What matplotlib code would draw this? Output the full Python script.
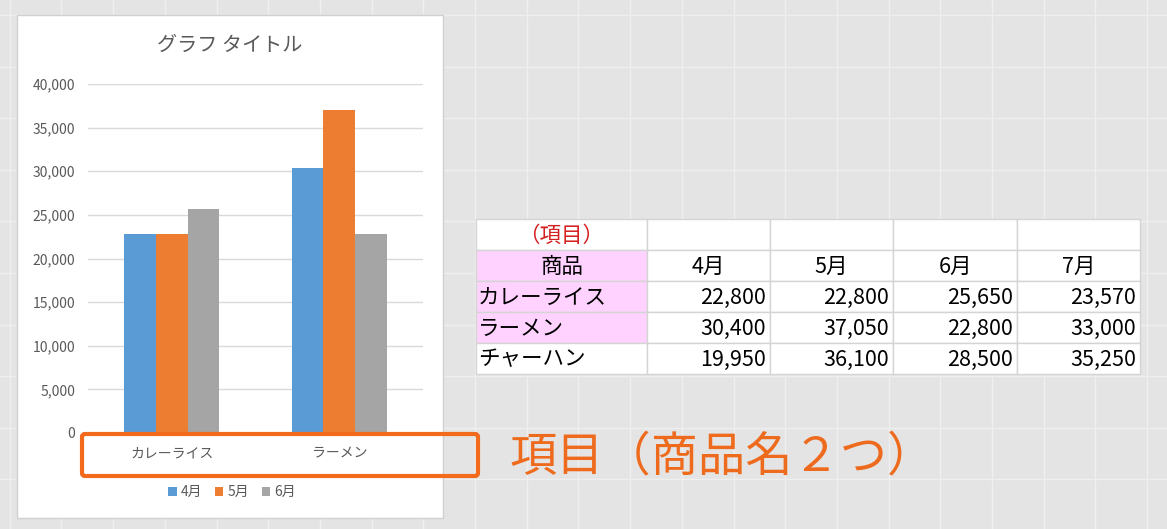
import matplotlib.pyplot as plt
import matplotlib.patches as mpatches
import numpy as np

plt.rcParams['font.family'] = ['Noto Sans CJK JP', 'DejaVu Sans']

# data
products = ["カレーライス", "ラーメン", "チャーハン"]
months = ["4月", "5月", "6月", "7月"]
apr = [22800, 30400, 19950]
may = [22800, 37050, 36100]
jun = [25650, 22800, 28500]
jul = [23570, 33000, 35250]
chart_title = "グラフ タイトル"
note_text = "項目（商品名２つ）"
head_label = "（項目）"
head_col = "商品"

W, H = 1167, 529
fig = plt.figure(figsize=(W / 100, H / 100), dpi=100)
fig.patch.set_facecolor("#e4e4e4")

# overlay axes in pixel coords
bg = fig.add_axes([0, 0, 1, 1])
bg.set_xlim(0, W)
bg.set_ylim(H, 0)
bg.axis("off")
bg.set_zorder(0)

# spreadsheet grid behind everything
for y in np.arange(15, H, 51.6):
    bg.plot([0, W], [y, y], color="#efefef", lw=1, zorder=1)
for x in np.arange(475 - 51.7 * 9, W, 51.7):
    bg.plot([x, x], [0, H], color="#efefef", lw=1, zorder=1)

# chart panel
bg.add_patch(mpatches.Rectangle((17, 15), 426, 503, facecolor="white",
                                edgecolor="#d0d0d0", lw=1, zorder=2))
bg.text(230, 45, chart_title, ha="center", va="center", fontsize=14.5,
        color="#595959", zorder=3)

# table
col_x = [476, 647, 770, 893, 1017, 1140]
row_y = [219, 250, 281, 312, 343, 374]
for r in range(5):
    for c in range(5):
        fc = "#ffd2ff" if (c == 0 and 1 <= r <= 3) else "white"
        bg.add_patch(mpatches.Rectangle((col_x[c], row_y[r]),
                                        col_x[c + 1] - col_x[c],
                                        row_y[r + 1] - row_y[r],
                                        facecolor=fc, edgecolor="#d4d4d4",
                                        lw=1, zorder=2))
def cy(r):
    return (row_y[r] + row_y[r + 1]) / 2 + 1

tfs = 15.5
bg.text((col_x[0] + col_x[1]) / 2, cy(0), head_label, ha="center", va="center",
        fontsize=tfs, color="#d42020", zorder=3)
bg.text((col_x[0] + col_x[1]) / 2, cy(1), head_col, ha="center", va="center",
        fontsize=tfs, color="black", zorder=3)
for j, m in enumerate(months):
    bg.text((col_x[j + 1] + col_x[j + 2]) / 2, cy(1), m, ha="center",
            va="center", fontsize=tfs, color="black", zorder=3)
table_vals = [apr, may, jun, jul]
for i, p in enumerate(products):
    bg.text(col_x[0] + 2, cy(i + 2), p, ha="left", va="center",
            fontsize=tfs, color="black", zorder=3)
    for j in range(4):
        bg.text(col_x[j + 2] - 4, cy(i + 2), f"{table_vals[j][i]:,}",
                ha="right", va="center", fontsize=tfs, color="black", zorder=3)

# bar chart (first two products, three months)
ax = fig.add_axes([88 / W, 1 - 433 / H, (423 - 88) / W, (433 - 84) / H])
ax.set_zorder(2)
ax.patch.set_alpha(0)
n = 2
x = np.arange(n)
bw = 0.19
colors = ["#5b9bd5", "#ed7d31", "#a5a5a5"]
series = [apr[:n], may[:n], jun[:n]]
handles = []
for k, (vals, col) in enumerate(zip(series, colors)):
    b = ax.bar(x + (k - 1) * bw, vals, bw, color=col, label=months[k], zorder=3)
    handles.append(b)
ax.set_xlim(-0.5, 1.5)
ax.set_ylim(0, 40000)
ax.set_yticks(range(0, 40001, 5000))
ax.set_yticklabels([f"{v:,}" for v in range(0, 40001, 5000)])
ax.yaxis.grid(True, color="#d9d9d9", lw=1)
ax.set_axisbelow(True)
ax.set_xticks(x)
ax.set_xticklabels(products[:n])
ax.tick_params(axis="both", length=0, labelsize=10, labelcolor="#595959")
ax.tick_params(axis="y", pad=9)
ax.tick_params(axis="x", pad=10)
for s in ["top", "right", "left"]:
    ax.spines[s].set_visible(False)
ax.spines["bottom"].set_color("#d9d9d9")

leg = ax.legend(handles=handles, loc="center", ncol=3, frameon=False,
                bbox_to_anchor=(232 / W, 1 - 492 / H),
                bbox_transform=fig.transFigure, fontsize=10,
                handlelength=0.6, handleheight=0.6, handletextpad=0.3,
                columnspacing=0.9)
for t in leg.get_texts():
    t.set_color("#595959")

# orange highlight box + note, on top
top = fig.add_axes([0, 0, 1, 1])
top.set_xlim(0, W)
top.set_ylim(H, 0)
top.axis("off")
top.set_zorder(5)
top.add_patch(mpatches.FancyBboxPatch((82, 434), 396, 42,
                                      boxstyle="round,pad=0,rounding_size=3",
                                      facecolor="none", edgecolor="#f26a1b",
                                      lw=3))
top.text(509, 457, note_text, ha="left", va="center", fontsize=34,
         color="#ee6a1c")

plt.savefig("out.png", dpi=100, facecolor=fig.get_facecolor())
